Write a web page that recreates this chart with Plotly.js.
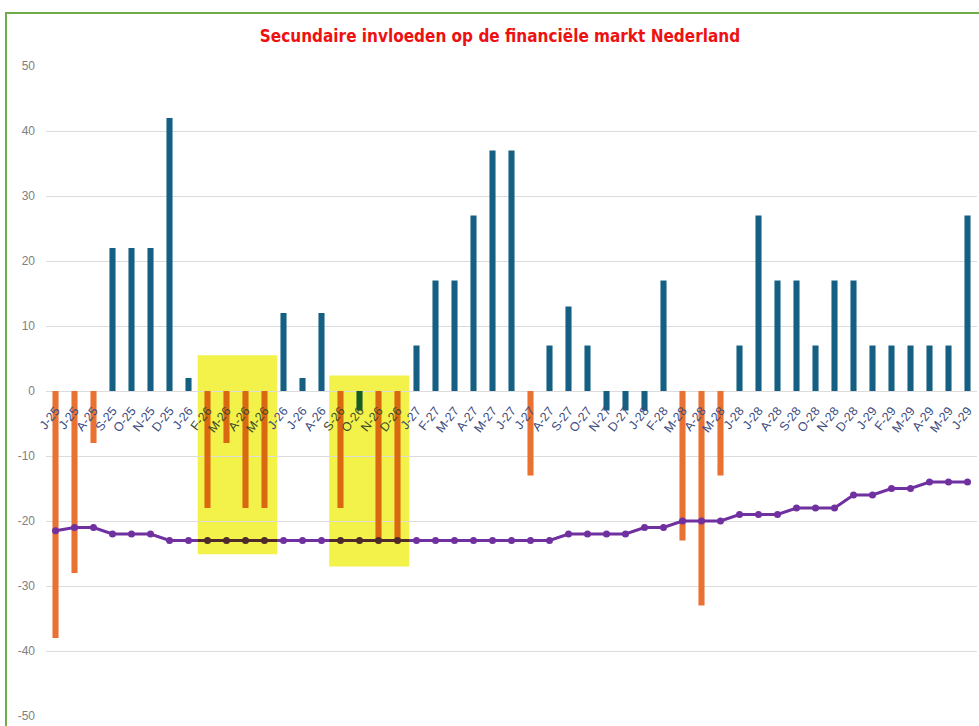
<!DOCTYPE html>
<html>
<head>
<meta charset="utf-8">
<script src="https://cdn.plot.ly/plotly-3.0.1.min.js"></script>
<style>
  html, body { margin: 0; padding: 0; background: #fff; overflow: hidden; }
  #wrap { position: relative; width: 979px; height: 726px; }
  #chart { position: absolute; left: 0; top: 0; width: 979px; height: 726px; }
  #frame { position: absolute; left: 5px; top: 12px; width: 1000px; height: 800px;
           border-left: 2px solid #70AD47; border-top: 2px solid #70AD47; pointer-events: none; }
</style>
</head>
<body>
<div id="wrap">
  <div id="chart"></div>
  <div id="frame"></div>
</div>
<script>
const monthLabels = ["J-25","J-25","A-25","S-25","O-25","N-25","D-25",
  "J-26","F-26","M-26","A-26","M-26","J-26","J-26","A-26","S-26","O-26","N-26","D-26",
  "J-27","F-27","M-27","A-27","M-27","J-27","J-27","A-27","S-27","O-27","N-27","D-27",
  "J-28","F-28","M-28","A-28","M-28","J-28","J-28","A-28","S-28","O-28","N-28","D-28",
  "J-29","F-29","M-29","A-29","M-29","J-29"];

const blueValues = [null,null,null,22,22,22,42,
  2,null,null,null,null,12,2,12,null,-3,null,null,
  7,17,17,27,37,37,null,7,13,7,-3,-3,
  -3,17,null,null,null,7,27,17,17,7,17,17,
  7,7,7,7,7,27];

const orangeValues = [-38,-28,-8,null,null,null,null,
  null,-18,-8,-18,-18,null,null,null,-18,null,-23,-23,
  null,null,null,null,null,null,-13,null,null,null,null,null,
  null,null,-23,-33,-13,null,null,null,null,null,null,null,
  null,null,null,null,null,null];

const lineValues = [-21.5,-21,-21,-22,-22,-22,-23,
  -23,-23,-23,-23,-23,-23,-23,-23,-23,-23,-23,-23,
  -23,-23,-23,-23,-23,-23,-23,-23,-22,-22,-22,-22,
  -21,-21,-20,-20,-20,-19,-19,-19,-18,-18,-18,-16,
  -16,-15,-15,-14,-14,-14];

const yTickVals = [-50,-40,-30,-20,-10,0,10,20,30,40,50];
const yTickText = ["-50","-40","-30","-20","-10","0","10","20","30","40","50"];

const idx = monthLabels.map((_, i) => i);

// highlight boxes (layout geometry): x range in category units, y range in value units
const boxes = [
  { x0: 7.47, x1: 11.68, y0: -25.1, y1: 5.5 },
  { x0: 14.4, x1: 18.63, y0: -27.0, y1: 2.4 }
];
const xMin = -0.5, xMax = 48.5;
const inBox = i => boxes.some(b => i >= b.x0 && i <= b.x1);
const labelText = monthLabels.map((s, i) => inBox(i) ? '<span style="color:#3E4A28">' + s + '</span>' : s);

const traces = [
  { type: 'bar', x: idx, y: blueValues, marker: { color: '#156082' }, width: 0.32, xaxis: 'x', yaxis: 'y' },
  { type: 'bar', x: idx, y: orangeValues, marker: { color: '#E97132' }, width: 0.32, xaxis: 'x', yaxis: 'y' },
  { type: 'scatter', mode: 'lines+markers', x: idx, y: lineValues, xaxis: 'x', yaxis: 'y',
    line: { color: '#7030A0', width: 3 }, marker: { color: '#7030A0', size: 7 } }
];

const layout = {
  width: 979, height: 726,
  margin: { l: 46, r: 2, t: 66, b: 10 },
  paper_bgcolor: 'rgba(0,0,0,0)', plot_bgcolor: 'rgba(0,0,0,0)',
  showlegend: false,
  barmode: 'overlay',
  hovermode: false,
  title: {
    text: '<b>Secundaire invloeden op de financiële markt Nederland</b>',
    font: { family: 'Liberation Sans Narrow, DejaVu Sans Condensed, Arial Narrow, sans-serif', size: 17, color: '#EE1111' },
    x: 500 / 979, xref: 'container', xanchor: 'center',
    y: 1 - 36 / 726, yref: 'container', yanchor: 'middle'
  },
  xaxis: {
    range: [xMin, xMax], domain: [0, 1],
    showticklabels: false,
    showgrid: false, zeroline: false, showline: false, ticks: '',
    anchor: 'y', fixedrange: true
  },
  yaxis: {
    range: [-50, 50], domain: [0, 1],
    tickmode: 'array', tickvals: yTickVals, ticktext: yTickText,
    tickfont: { family: 'Liberation Sans, Arial, sans-serif', size: 12, color: '#7F7F7F' },
    showgrid: true, gridcolor: '#DCDCDC', gridwidth: 1,
    zeroline: true, zerolinecolor: '#DCDCDC', zerolinewidth: 1,
    showline: false, ticks: '', ticklabelstandoff: 10, fixedrange: true
  },
  // top-most label axis, sitting on the zero line
  xaxis4: {
    range: [xMin, xMax], domain: [0, 1],
    tickmode: 'array', tickvals: idx, ticktext: labelText,
    tickangle: -52,
    tickfont: { family: 'Liberation Sans, Arial, sans-serif', size: 12.5, color: '#3B4C80' },
    showgrid: false, zeroline: false, showline: false, ticks: '',
    ticklabelstandoff: 9,
    anchor: 'free', position: 0.5, fixedrange: true
  },
  yaxis2: {
    range: [-50, 50], domain: [0, 1], anchor: 'x4',
    visible: false, showgrid: false, zeroline: false, fixedrange: true
  },
  shapes: []
};

// highlighted sub-views: same data drawn again in "multiplied" colours, clipped to each box
boxes.forEach((b, k) => {
  const ax = 'x' + (k + 2);
  const axName = 'xaxis' + (k + 2);
  layout[axName] = {
    range: [b.x0, b.x1],
    domain: [(b.x0 - xMin) / (xMax - xMin), (b.x1 - xMin) / (xMax - xMin)],
    anchor: 'y', visible: false, showgrid: false, zeroline: false, fixedrange: true
  };
  layout.shapes.push({ type: 'rect', xref: ax, yref: 'y', x0: b.x0, x1: b.x1, y0: b.y0, y1: b.y1,
    fillcolor: '#F2F24A', line: { width: 0 }, layer: 'below' });
  traces.push({ type: 'bar', x: idx, y: blueValues, marker: { color: '#145B26' }, width: 0.32, xaxis: ax, yaxis: 'y' });
  traces.push({ type: 'bar', x: idx, y: orangeValues, marker: { color: '#DA6810' }, width: 0.32, xaxis: ax, yaxis: 'y' });
  traces.push({ type: 'scatter', mode: 'lines+markers', x: idx, y: lineValues, xaxis: ax, yaxis: 'y',
    line: { color: '#4E2A2A', width: 3 }, marker: { color: '#4E2A2A', size: 7 } });
});

// carrier for the label axis (no visible marks)
traces.push({ type: 'scatter', mode: 'markers', x: idx, y: lineValues, xaxis: 'x4', yaxis: 'y2',
  marker: { opacity: 0, size: 1 } });

traces.forEach(t => { t.hoverinfo = 'skip'; });

Plotly.newPlot('chart', traces, layout, { displayModeBar: false, staticPlot: true });
</script>
</body>
</html>
